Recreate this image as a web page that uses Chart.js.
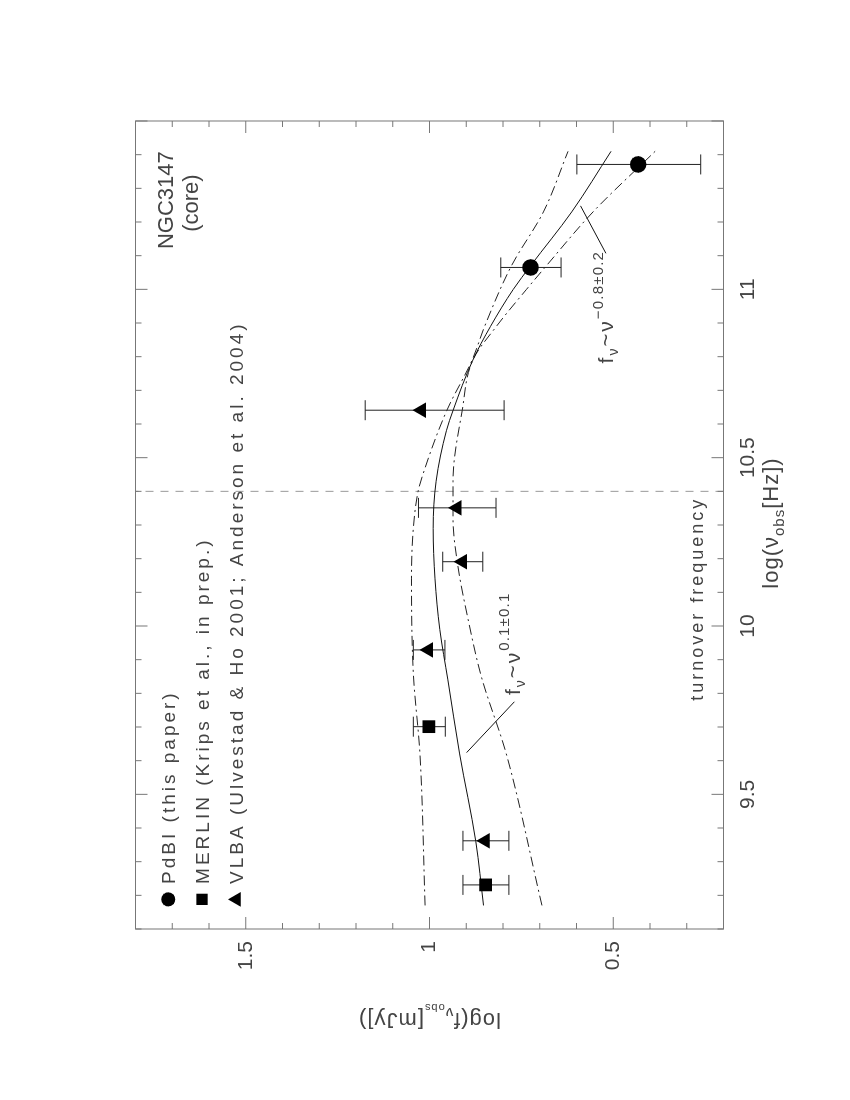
<!DOCTYPE html>
<html>
<head>
<meta charset="utf-8">
<script src="https://cdn.jsdelivr.net/npm/chart.js@4.4.1/dist/chart.umd.min.js"></script>
<style>
  html, body { margin: 0; padding: 0; background: #fff; width: 850px; height: 1100px; overflow: hidden; }
  /* the figure is a landscape plot turned on its side */
  #wrap { position: absolute; left: -125px; top: 125px; width: 1100px; height: 850px; transform: rotate(-90deg); }
</style>
</head>
<body>
<div id="wrap"><canvas id="sed" width="1100" height="850"></canvas></div>
<script>
// log(nu_obs [Hz]) against log(f_nu [mJy])
const pdbiFreq = [11.065, 11.371];
const pdbiFlux = [0.725, 0.432];
const pdbiLow = [0.642, 0.262];
const pdbiHigh = [0.806, 0.599];

const merlinFreq = [9.231, 9.701];
const merlinFlux = [0.847, 1.002];
const merlinLow = [0.784, 0.957];
const merlinHigh = [0.909, 1.044];

const vlbaFreq = [9.362, 9.929, 10.191, 10.351, 10.641];
const vlbaFlux = [0.848, 1.003, 0.910, 0.925, 1.022];
const vlbaLow = [0.784, 0.958, 0.855, 0.819, 0.797];
const vlbaHigh = [0.909, 1.044, 0.964, 1.030, 1.175];

// fitted spectrum (solid) and the two bounding spectra (dash-dot)
const fitFreq = [9.17, 9.36, 9.62, 9.84, 9.99, 10.14, 10.29, 10.43, 10.58, 10.64, 10.79, 10.89, 11.00, 11.07, 11.23, 11.41];
const fitFlux = [0.853, 0.874, 0.918, 0.950, 0.972, 0.985, 0.990, 0.982, 0.954, 0.936, 0.882, 0.834, 0.772, 0.725, 0.613, 0.506];
const upperFreq = [9.17, 9.62, 9.86, 10.14, 10.29, 10.40, 10.45, 10.64, 10.79, 10.89, 11.07, 11.23, 11.41];
const upperFlux = [1.012, 1.026, 1.044, 1.049, 1.044, 1.031, 1.018, 0.953, 0.884, 0.850, 0.777, 0.690, 0.623];
const lowerFreq = [9.17, 9.62, 9.85, 10.02, 10.18, 10.32, 10.43, 10.64, 10.79, 10.89, 11.00, 11.07, 11.23, 11.41];
const lowerFlux = [0.694, 0.791, 0.859, 0.895, 0.923, 0.936, 0.936, 0.911, 0.882, 0.818, 0.736, 0.682, 0.555, 0.386];

const turnoverFreq = 10.4;
const xTicks = [9.5, 10, 10.5, 11];
const yTicks = [0.5, 1, 1.5];
const legendLabels = [
  'PdBI (this paper)',
  'MERLIN (Krips et al., in prep.)',
  'VLBA (Ulvestad & Ho 2001; Anderson et al. 2004)'
];

const FONT = '"Liberation Sans", Arial, sans-serif';
const TEXT = '#444';
const FRAME = '#777';

const toPoints = (xs, ys) => xs.map((x, i) => ({ x: x, y: ys[i] }));

// draw a run of text pieces (for sub/superscripts); returns the width
function drawRich(ctx, parts, x, y, align) {
  let w = 0;
  parts.forEach(p => {
    ctx.font = p[1] + 'px ' + FONT;
    ctx.letterSpacing = (p[3] || 0) + 'px';
    w += ctx.measureText(p[0]).width;
  });
  let cx = align === 'center' ? x - w / 2 : (align === 'right' ? x - w : x);
  ctx.textAlign = 'left';
  ctx.textBaseline = 'alphabetic';
  parts.forEach(p => {
    ctx.font = p[1] + 'px ' + FONT;
    ctx.letterSpacing = (p[3] || 0) + 'px';
    ctx.fillText(p[0], cx, y + (p[2] || 0));
    cx += ctx.measureText(p[0]).width;
  });
  ctx.letterSpacing = '0px';
  return w;
}

const sedPlugin = {
  id: 'sed',
  beforeDatasetsDraw(chart) {
    const ctx = chart.ctx;
    const a = chart.chartArea;
    const xs = chart.scales.x, ys = chart.scales.y;

    // turnover frequency marker
    const tx = xs.getPixelForValue(turnoverFreq);
    ctx.save();
    ctx.strokeStyle = '#999';
    ctx.lineWidth = 1;
    ctx.setLineDash([8, 7]);
    ctx.beginPath();
    ctx.moveTo(tx, a.bottom);
    ctx.lineTo(tx, a.top);
    ctx.stroke();
    ctx.restore();

    // error bars
    const groups = [
      [pdbiFreq, pdbiLow, pdbiHigh],
      [merlinFreq, merlinLow, merlinHigh],
      [vlbaFreq, vlbaLow, vlbaHigh]
    ];
    ctx.save();
    ctx.strokeStyle = '#222';
    ctx.lineWidth = 1;
    groups.forEach(g => {
      g[0].forEach((f, i) => {
        const px = xs.getPixelForValue(f);
        const lo = ys.getPixelForValue(g[1][i]);
        const hi = ys.getPixelForValue(g[2][i]);
        ctx.beginPath();
        ctx.moveTo(px, lo); ctx.lineTo(px, hi);
        ctx.moveTo(px - 10, lo); ctx.lineTo(px + 10, lo);
        ctx.moveTo(px - 10, hi); ctx.lineTo(px + 10, hi);
        ctx.stroke();
      });
    });
    ctx.restore();
  },
  afterDatasetsDraw(chart) {
    const ctx = chart.ctx;
    const a = chart.chartArea;
    const xs = chart.scales.x, ys = chart.scales.y;
    ctx.save();
    ctx.strokeStyle = FRAME;
    ctx.lineWidth = 1;
    ctx.strokeRect(a.left, a.top, a.right - a.left, a.bottom - a.top);
    ctx.beginPath();
    // inward ticks every 0.1, longer every 0.5
    for (let k = Math.ceil(xs.min * 10 - 1e-6); k <= Math.floor(xs.max * 10 + 1e-6); k++) {
      const p = xs.getPixelForValue(k / 10);
      const len = k % 5 === 0 ? 12 : 6;
      ctx.moveTo(p, a.bottom); ctx.lineTo(p, a.bottom - len);
      ctx.moveTo(p, a.top); ctx.lineTo(p, a.top + len);
    }
    for (let k = Math.ceil(ys.min * 10 - 1e-6); k <= Math.floor(ys.max * 10 + 1e-6); k++) {
      const p = ys.getPixelForValue(k / 10);
      const len = k % 5 === 0 ? 12 : 6;
      ctx.moveTo(a.left, p); ctx.lineTo(a.left + len, p);
      ctx.moveTo(a.right, p); ctx.lineTo(a.right - len, p);
    }
    ctx.stroke();
    ctx.restore();
  },
  afterDraw(chart) {
    const ctx = chart.ctx;
    const a = chart.chartArea;
    const xs = chart.scales.x, ys = chart.scales.y;
    const X = v => xs.getPixelForValue(v);
    const Y = v => ys.getPixelForValue(v);

    ctx.save();
    ctx.fillStyle = TEXT;

    // axis titles
    drawRich(ctx, [['log(\u03bd', 22, 0, 1], ['obs', 15, 6, 1], ['[Hz])', 22, 0, 1]],
      (a.left + a.right) / 2 + 2, a.bottom + 54.5, 'center');
    ctx.save();
    ctx.translate(a.left - 84, (a.top + a.bottom) / 2);
    ctx.rotate(-Math.PI / 2);
    drawRich(ctx, [['log(f', 22, 0, 1], ['\u03bd', 15, 5, 1], ['obs', 11, 9, 1], ['[mJy])', 22, 0, 1]], 0, 0, 'center');
    ctx.restore();

    // source name
    ctx.font = '22px ' + FONT;
    ctx.textAlign = 'center';
    ctx.fillText('NGC3147', X(11.265), Y(1.697));
    ctx.fillText('(core)', X(11.256), Y(1.629));

    drawRich(ctx, [['turnover frequency', 18, 0, 3]], X(10.384), Y(0.256), 'right');

    // power law labels
    ctx.strokeStyle = '#111';
    ctx.lineWidth = 1;
    ctx.beginPath();
    ctx.moveTo(X(9.624), Y(0.899)); ctx.lineTo(X(9.775), Y(0.769));
    ctx.moveTo(X(11.107), Y(0.520)); ctx.lineTo(X(11.248), Y(0.589));
    ctx.stroke();
    drawRich(ctx, [['f', 21, 0, 2], ['\u03bd', 14, 5, 2], ['~', 22, 0, 2], ['\u03bd', 21, 0, 2], ['0.1\u00b10.1', 15, -11, 1.2]],
      X(9.795), Y(0.755), 'left');
    drawRich(ctx, [['f', 21, 0, 2], ['\u03bd', 14, 5, 2], ['~', 22, 0, 2], ['\u03bd', 21, 0, 2], ['\u22120.8\u00b10.2', 15, -10, 1.2]],
      X(10.780), Y(0.502), 'left');

    // legend
    const styles = [['circle', 7], ['rect', 8], ['triangle', 8.5]];
    const rowY = [1.7107, 1.619, 1.525];
    legendLabels.forEach((label, i) => {
      ctx.fillStyle = '#000';
      Chart.helpers.drawPoint(ctx, { pointStyle: styles[i][0], radius: styles[i][1], rotation: 0, borderWidth: 0 }, X(9.188), Y(rowY[i]));
      ctx.fillStyle = TEXT;
      drawRich(ctx, [[label, 19, 0, 3]], X(9.234), Y(rowY[i]) + 6.8, 'left');
    });
    ctx.restore();
  }
};

const dashDot = [10, 4, 2, 4];

new Chart(document.getElementById('sed'), {
  type: 'scatter',
  data: {
    datasets: [
      { label: legendLabels[0], data: toPoints(pdbiFreq, pdbiFlux), pointStyle: 'circle', pointRadius: 8.3,
        pointBackgroundColor: '#000', pointBorderWidth: 0, order: 0 },
      { label: legendLabels[1], data: toPoints(merlinFreq, merlinFlux), pointStyle: 'rect', pointRadius: 9,
        pointBackgroundColor: '#000', pointBorderWidth: 0, order: 0 },
      { label: legendLabels[2], data: toPoints(vlbaFreq, vlbaFlux), pointStyle: 'triangle', pointRadius: 9,
        pointBackgroundColor: '#000', pointBorderWidth: 0, order: 0 },
      { label: 'fit', data: toPoints(fitFreq, fitFlux), showLine: true, pointRadius: 0, borderColor: '#111',
        borderWidth: 1, cubicInterpolationMode: 'monotone', order: 1 },
      { label: 'upper', data: toPoints(upperFreq, upperFlux), showLine: true, pointRadius: 0, borderColor: '#222',
        borderWidth: 1, borderDash: dashDot, cubicInterpolationMode: 'monotone', order: 1 },
      { label: 'lower', data: toPoints(lowerFreq, lowerFlux), showLine: true, pointRadius: 0, borderColor: '#222',
        borderWidth: 1, borderDash: dashDot, cubicInterpolationMode: 'monotone', order: 1 }
    ]
  },
  options: {
    responsive: false,
    animation: false,
    events: [],
    layout: { padding: { left: 0, right: 121, top: 135.5, bottom: 0 } },
    plugins: {
      legend: { display: false },
      tooltip: { enabled: false }
    },
    scales: {
      x: {
        type: 'linear', min: 9.1, max: 11.5,
        afterFit: s => { s.height = 126.5; },
        afterBuildTicks: s => { s.ticks = xTicks.map(v => ({ value: v })); },
        grid: { display: false, drawTicks: false },
        border: { display: false },
        ticks: { padding: 12, color: TEXT, font: { family: FONT, size: 21 }, callback: v => String(v) }
      },
      y: {
        type: 'linear', min: 0.2, max: 1.8,
        afterFit: s => { s.width = 171; },
        afterBuildTicks: s => { s.ticks = yTicks.map(v => ({ value: v })); },
        grid: { display: false, drawTicks: false },
        border: { display: false },
        ticks: { padding: 12, color: TEXT, font: { family: FONT, size: 21 }, callback: v => String(v) }
      }
    }
  },
  plugins: [sedPlugin]
});
</script>
</body>
</html>
